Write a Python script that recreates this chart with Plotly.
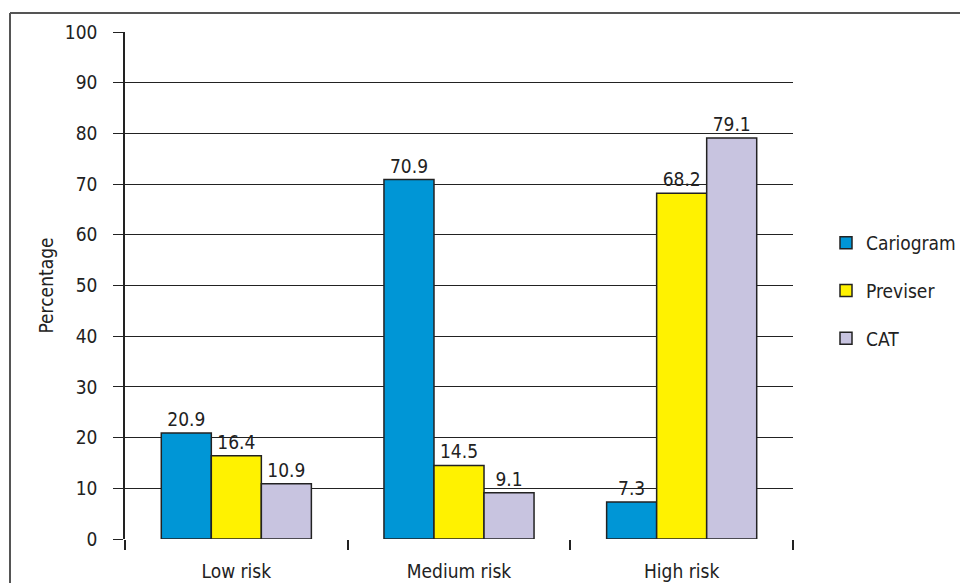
import plotly.graph_objects as go

categories = ["Low risk", "Medium risk", "High risk"]
cariogram = [20.9, 70.9, 7.3]
previser = [16.4, 14.5, 68.2]
cat = [10.9, 9.1, 79.1]
series_names = ["Cariogram", "Previser", "CAT"]
colors = ["#0096D6", "#FFF200", "#C8C4E0"]

FONT = "DejaVu Sans Condensed"
FS = 19

fig = go.Figure()
for i, (name, vals) in enumerate(zip(series_names, [cariogram, previser, cat])):
    fig.add_trace(go.Bar(
        x=categories, y=vals, name=name,
        marker=dict(color=colors[i], line=dict(color="#222222", width=1.5)),
        text=[f"{v:.1f}" for v in vals], textposition="outside",
        textfont=dict(size=FS, color="#222222", family=FONT),
        cliponaxis=False, legendgroup=name,
    ))

L, R, T, B = 125, 167, 32, 44
W, H = 960, 583
pw, ph = W - L - R, H - T - B

fig.update_layout(
    width=W, height=H,
    margin=dict(l=L, r=R, t=T, b=B, autoexpand=False),
    paper_bgcolor="white", plot_bgcolor="white",
    font=dict(family=FONT, size=FS, color="#222222"),
    barmode="group", bargap=0.326, bargroupgap=0,
    showlegend=True,
    legend=dict(x=(826 - L) / pw, y=(539 - 224) / ph, xanchor="left", yanchor="top",
                font=dict(size=FS, family=FONT), tracegroupgap=20, itemwidth=30,
                bgcolor="rgba(0,0,0,0)"),
    xaxis=dict(showgrid=False, ticks="outside", tickson="boundaries", ticklen=10,
               tickcolor="#222222", tickwidth=1.5, showline=False, zeroline=False,
               ticklabelstandoff=19,
               tickfont=dict(size=FS, family=FONT)),
    yaxis=dict(range=[0, 100], dtick=10, showgrid=True, gridcolor="#222222", gridwidth=1.2,
               ticks="outside", ticklen=10, tickcolor="#222222", tickwidth=1.2,
               showline=True, linecolor="#222222", linewidth=1.5, zeroline=False,
               ticklabelstandoff=12,
               tickfont=dict(size=FS, family=FONT),
               title=dict(text="Percentage", font=dict(size=FS, family=FONT), standoff=6)),
)

# Outer frame (left and top edges visible)
fx = (10 - L) / pw
fy = (539 - 13) / ph
fig.add_shape(type="line", xref="paper", yref="paper", x0=fx, x1=fx, y0=fy, y1=-0.2,
              line=dict(color="#555555", width=2))
fig.add_shape(type="line", xref="paper", yref="paper", x0=fx, x1=1.4, y0=fy, y1=fy,
              line=dict(color="#555555", width=2))

fig.write_html("out.html")
